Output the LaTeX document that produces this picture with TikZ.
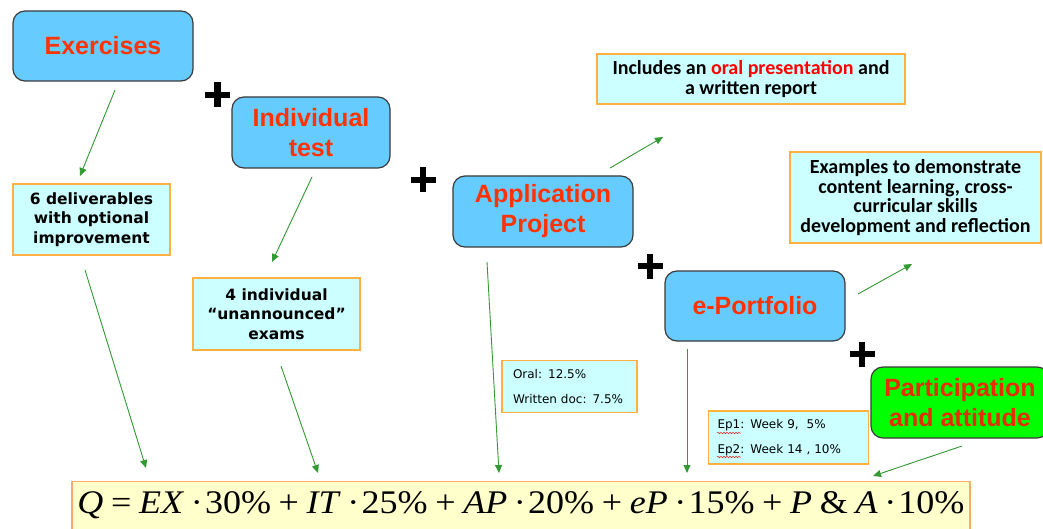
\documentclass[tikz,border=0pt]{standalone}
\usepackage{fontspec}
\setmainfont{Liberation Sans}
\newfontfamily\headfont{Liberation Sans}
\newfontfamily\verdfont{DejaVu Sans}
\newfontfamily\califont{Carlito}
\newfontfamily\formfont{Liberation Serif}
\usetikzlibrary{arrows.meta,decorations.pathmorphing,calc}

\definecolor{skyfill}{HTML}{66CCFF}
\definecolor{boxedge}{HTML}{3A3A3A}
\definecolor{headred}{HTML}{FF3300}
\definecolor{limefill}{HTML}{00FF00}
\definecolor{notefill}{HTML}{CCFFFF}
\definecolor{noteedge}{HTML}{FFB040}
\definecolor{formfill}{HTML}{FFFFCC}
\definecolor{formedge}{HTML}{FFAA66}
\definecolor{linkgreen}{HTML}{339933}
\definecolor{spellred}{HTML}{FF2020}

\tikzset{
  mainbox/.style={draw=boxedge, line width=1.2pt, fill=skyfill, rounded corners=12pt,
    align=center, text=headred, inner sep=0pt,
    font=\headfont\bfseries\fontsize{25}{30}\selectfont},
  notebox/.style={draw=noteedge, line width=1.3pt, fill=notefill, align=center, inner sep=0pt},
  verdnote/.style={notebox, font=\verdfont\bfseries\fontsize{15.5}{19.5}\selectfont},
  calinote/.style={notebox, font=\califont\bfseries\fontsize{20}{19.7}\selectfont},
  smallnote/.style={notebox, align=left, inner ysep=0pt,
    font=\verdfont\fontsize{12}{25}\selectfont},
  link/.style={draw=linkgreen, line width=0.9pt, -{Triangle[length=8pt,width=7pt]}},
  plusbar/.style={line width=6.5pt, black},
}

% spacing helpers for the grade formula
\newcommand\opgap{\hspace{7pt}}
\newcommand\dotl{\hspace{6pt}·\hspace{2pt}}

\begin{document}
\begin{tikzpicture}[x=1pt,y=-1pt]
\useasboundingbox (0,0) rectangle (1043,529);
\clip (0,0) rectangle (1043,529);
\fill[white] (0,0) rectangle (1043,529);

% the five graded components
\node[mainbox, minimum width=180pt, minimum height=70pt] (ex) at (103,46) {Exercises};
\node[mainbox, minimum width=158pt, minimum height=71pt] (it) at (311,132.5) {Individual\\test};
\node[mainbox, minimum width=180pt, minimum height=71pt] (ap) at (543,211.5) {Application\\Project};
\node[mainbox, minimum width=180pt, minimum height=70pt] (ep) at (755,306) {e-Portfolio};
\node[mainbox, fill=limefill, minimum width=178pt, minimum height=71pt, text=headred!90!black] (pa) at (960,402.5) {Participation\\and attitude};

% plus signs between the components
\foreach \cx/\cy [count=\k] in {217.5/95, 423/180, 650/266, 862/354}{
  \coordinate (plus\k) at (\cx,\cy);
  \draw[plusbar] ($(plus\k)+(-12.5,0)$) -- ($(plus\k)+(12.5,0)$);
  \draw[plusbar] ($(plus\k)+(0,-12.5)$) -- ($(plus\k)+(0,12.5)$);
}

% explanatory notes
\node[verdnote, minimum width=157pt, minimum height=71pt] (del) at (91.5,219.5)
  {6 deliverables\\with optional\\improvement};
\node[verdnote, minimum width=167pt, minimum height=72pt] (exm) at (276.5,314)
  {4 individual\\“unannounced”\\exams};
\node[calinote, minimum width=308pt, minimum height=50pt] (inc) at (751,79)
  {Includes an {\color{red}oral presentation} and\\a written report};
\node[calinote, minimum width=251pt, minimum height=91pt] (exa) at (915.5,197.5)
  {Examples to demonstrate\\content learning, cross-\\curricular skills\\development and reflection};
\node[smallnote, text width=113pt, inner xsep=11pt, minimum height=52pt] (oral) at (569.5,386.5)
  {Oral: 12.5\%\\Written doc: 7.5\%};
\node[smallnote, text width=142pt, inner xsep=9pt, minimum height=53pt] (epn) at (788.5,437.5)
  {Ep1: Week 9,\ \ 5\%\\Ep2: Week 14 , 10\%};

% spell-check marks under the Ep labels
\foreach \yy/\nm in {433/ua, 457/ub}{
  \coordinate (\nm l) at (717,\yy);
  \coordinate (\nm r) at (741,\yy);
  \draw[spellred, line width=0.5pt, decorate, decoration={snake, amplitude=0.8pt, segment length=3pt}] (\nm l) -- (\nm r);
}

% the final grade formula
\node[draw=formedge, line width=1.3pt, fill=formfill, minimum width=898pt, minimum height=56pt,
      inner sep=0pt, anchor=north] (form) at (521,481) {};
\node[anchor=base, font=\formfont\fontsize{33}{33}\selectfont, inner sep=0pt] (fq) at (521,513)
  {\resizebox{887pt}{\height}{\textit{Q}\opgap=\opgap\textit{EX}\dotl 30\%\opgap+\opgap\textit{IT}\dotl 25\%\opgap+\opgap\textit{AP}\dotl 20\%\opgap+\opgap\textit{eP}\dotl 15\%\opgap+\opgap\textit{P}\opgap\&\opgap\textit{A}\dotl 10\%}};

% connector end points
\coordinate (s1) at (115,90);   \coordinate (e1) at (80,176);
\coordinate (s2) at (312,177);  \coordinate (e2) at (272,262);
\coordinate (s3) at (610,168);  \coordinate (e3) at (663,137);
\coordinate (s4) at (858,294);  \coordinate (e4) at (912,264);
\coordinate (s5) at (85,270);   \coordinate (e5) at (146,468);
\coordinate (s6) at (281,366);  \coordinate (e6) at (318,473);
\coordinate (s7) at (487,262);  \coordinate (e7) at (499,473);
\coordinate (s8) at (687,349);  \coordinate (e8) at (687,473);
\coordinate (s9) at (962,446);  \coordinate (e9) at (873,476);

\foreach \k in {1,...,9}{ \draw[link] (s\k) -- (e\k); }
\end{tikzpicture}
\end{document}
